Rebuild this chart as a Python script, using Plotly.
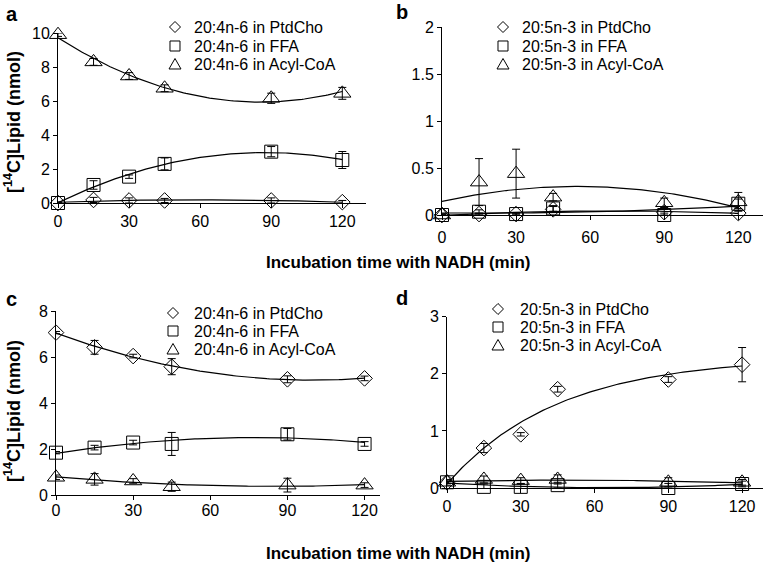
import numpy as np
import plotly.graph_objects as go

# ---------------- data ----------------
time_min = [0, 15, 30, 45, 90, 120]
x_ticks = [0, 30, 60, 90, 120]

# panel a: 20:4n-6
a_ptdcho = [0.0, 0.18, 0.15, 0.15, 0.15, 0.05]
a_ptdcho_err = [0.05, 0.15, 0.15, 0.12, 0.15, 0.1]
a_ffa = [0.0, 1.06, 1.55, 2.3, 3.02, 2.53]
a_ffa_err = [0.05, 0.25, 0.1, 0.35, 0.3, 0.5]
a_acyl = [9.9, 8.3, 7.47, 6.75, 6.16, 6.45]
a_acyl_err = [0.1, 0.2, 0.2, 0.2, 0.3, 0.35]

# panel b: 20:5n-3
b_ptdcho = [0.0, 0.01, 0.01, 0.06, 0.03, 0.02]
b_ptdcho_err = [0.01, 0.01, 0.01, 0.03, 0.03, 0.03]
b_ffa = [0.0, 0.035, 0.01, 0.07, 0.0, 0.12]
b_ffa_err = [0.01, 0.02, 0.01, 0.03, 0.02, 0.05]
b_acyl = [0.0, 0.35, 0.44, 0.19, 0.13, 0.14]
b_acyl_err = [0.01, 0.25, 0.26, 0.04, 0.05, 0.1]

# panel c: 20:4n-6
c_ptdcho = [7.06, 6.42, 6.04, 5.58, 5.03, 5.07]
c_ptdcho_err = [0.05, 0.3, 0.08, 0.35, 0.15, 0.1]
c_ffa = [1.84, 2.06, 2.28, 2.22, 2.64, 2.22]
c_ffa_err = [0.05, 0.1, 0.1, 0.5, 0.25, 0.1]
c_acyl = [0.77, 0.68, 0.61, 0.36, 0.43, 0.43]
c_acyl_err = [0.1, 0.25, 0.1, 0.2, 0.3, 0.1]

# panel d: 20:5n-3
d_ptdcho = [0.1, 0.7, 0.94, 1.73, 1.9, 2.16]
d_ptdcho_err = [0.05, 0.08, 0.03, 0.05, 0.05, 0.3]
d_ffa = [0.1, 0.02, 0.02, 0.05, 0.0, 0.07]
d_ffa_err = [0.02, 0.05, 0.05, 0.05, 0.08, 0.05]
d_acyl = [0.1, 0.15, 0.13, 0.15, 0.1, 0.1]
d_acyl_err = [0.02, 0.06, 0.05, 0.08, 0.08, 0.05]

W, H = 765, 567
FONT = "Liberation Sans, Arial, sans-serif"


def px_x(p):
    return p / W


def px_y(p):
    return 1 - p / H


def fit_poly(x, y, deg=2):
    c = np.polyfit(x, y, deg)
    xs = np.linspace(0, 120, 121)
    return xs, np.polyval(c, xs)


def fit_exp_sat(x, y):
    x = np.asarray(x, float)
    y = np.asarray(y, float)
    best = None
    for k in np.linspace(0.002, 0.1, 500):
        A = np.column_stack([np.ones_like(x), -np.exp(-k * x)])
        coef, *_ = np.linalg.lstsq(A, y, rcond=None)
        r = np.sum((A @ coef - y) ** 2)
        if best is None or r < best[0]:
            best = (r, k, coef)
    _, k, (a0, b0) = best
    xs = np.linspace(0, 120, 121)
    return xs, a0 - b0 * np.exp(-k * xs)


def legend_key(kind, cx, cy):
    """Open legend key shape centred at pixel (cx, cy)."""
    line = dict(color="black", width=1)
    if kind == 0:  # diamond
        r = 5.5
        pts = [(cx, cy - r), (cx + r, cy), (cx, cy + r), (cx - r, cy)]
    elif kind == 1:  # square
        r = 5
        pts = [(cx - r, cy - r), (cx + r, cy - r), (cx + r, cy + r), (cx - r, cy + r)]
    else:  # triangle
        pts = [(cx, cy - 5.5), (cx + 6, cy + 5), (cx - 6, cy + 5)]
    path = "M " + " L ".join(f"{px_x(px):.5f},{px_y(py):.5f}" for px, py in pts) + " Z"
    return dict(type="path", path=path, xref="paper", yref="paper", line=line,
                fillcolor="rgba(0,0,0,0)")


fig = go.Figure()

panels = [
    dict(ax="", fa="20:4n-6", s=[(a_ptdcho, a_ptdcho_err), (a_ffa, a_ffa_err), (a_acyl, a_acyl_err)],
         leg=(175, 192, [27, 46, 64])),
    dict(ax="2", fa="20:5n-3", s=[(b_ptdcho, b_ptdcho_err), (b_ffa, b_ffa_err), (b_acyl, b_acyl_err)],
         leg=(503, 520, [27, 46, 64])),
    dict(ax="3", fa="20:4n-6", s=[(c_ptdcho, c_ptdcho_err), (c_ffa, c_ffa_err), (c_acyl, c_acyl_err)],
         leg=(173, 192, [313, 331, 349])),
    dict(ax="4", fa="20:5n-3", s=[(d_ptdcho, d_ptdcho_err), (d_ffa, d_ffa_err), (d_acyl, d_acyl_err)],
         leg=(498, 518, [309, 327, 345])),
]
symbols = ["diamond-open", "square-open", "triangle-up-open"]
sizes = [12, 13, 15]
kinds = ["PtdCho", "FFA", "Acyl-CoA"]

ann = []
shapes = []
for pi, p in enumerate(panels):
    xa = "x" + p["ax"]
    ya = "y" + p["ax"]
    for si, (vals, errs) in enumerate(p["s"]):
        if pi == 3 and si == 0:
            xs, ys = fit_exp_sat(time_min, vals)
        else:
            xs, ys = fit_poly(time_min, vals, 2)
        fig.add_trace(go.Scatter(
            x=xs, y=ys, mode="lines", line=dict(color="black", width=1.2),
            xaxis=xa, yaxis=ya, showlegend=False, hoverinfo="skip", cliponaxis=False))
    for si, (vals, errs) in enumerate(p["s"]):
        fig.add_trace(go.Scatter(
            x=time_min, y=vals, mode="markers",
            name=f"{p['fa']} in {kinds[si]}", showlegend=False,
            marker=dict(symbol=symbols[si], size=sizes[si], color="black",
                        line=dict(color="black", width=1)),
            error_y=dict(type="data", array=errs, visible=True, color="black",
                         thickness=1, width=4),
            xaxis=xa, yaxis=ya, cliponaxis=False))
    # legend: key shapes + text
    sx, tx, rows = p["leg"]
    for si in range(3):
        shapes.append(legend_key(si, sx, rows[si]))
        ann.append(dict(text=f"{p['fa']} in {kinds[si]}", x=px_x(tx), y=px_y(rows[si]),
                        xref="paper", yref="paper", showarrow=False, xanchor="left",
                        yanchor="middle", font=dict(family=FONT, size=16, color="black")))

axis_common = dict(showgrid=False, zeroline=False, showline=True, linecolor="black",
                   linewidth=1, ticks="outside", ticklen=4, tickcolor="black",
                   tickfont=dict(family=FONT, size=16, color="black"))

layout = dict(
    width=W, height=H, margin=dict(l=0, r=0, t=0, b=0, autoexpand=False),
    paper_bgcolor="white", plot_bgcolor="white",
    font=dict(family=FONT, color="black"), showlegend=False,
    # panel a
    xaxis=dict(domain=[px_x(58), px_x(366)], range=[0, 130], tickvals=x_ticks, anchor="y", **axis_common),
    yaxis=dict(domain=[px_y(203), px_y(33)], range=[0, 10], tickvals=[0, 2, 4, 6, 8, 10], anchor="x", **axis_common),
    # panel b
    xaxis2=dict(domain=[px_x(442), px_x(763)], range=[0, 130], tickvals=x_ticks, anchor="y2",
                ticklabelstandoff=4, **axis_common),
    yaxis2=dict(domain=[px_y(215), px_y(27)], range=[0, 2], tickvals=[0, 0.5, 1, 1.5, 2],
                ticktext=["0", "0.5", "1", "1.5", "2"], anchor="x2", **axis_common),
    # panel c
    xaxis3=dict(domain=[px_x(56), px_x(380)], range=[0, 126], tickvals=x_ticks, anchor="y3",
                ticklabelstandoff=-3, **axis_common),
    yaxis3=dict(domain=[px_y(495), px_y(311)], range=[0, 8], tickvals=[0, 2, 4, 6, 8], anchor="x3", **axis_common),
    # panel d
    xaxis4=dict(domain=[px_x(447), px_x(763)], range=[0, 128.5], tickvals=x_ticks, anchor="y4", **axis_common),
    yaxis4=dict(domain=[px_y(488), px_y(316.7)], range=[0, 3], tickvals=[0, 1, 2, 3], anchor="x4", **axis_common),
)
fig.update_layout(**layout)

for lbl, x, y in [("a", 12, 14), ("b", 402, 12), ("c", 11, 299), ("d", 402, 298)]:
    ann.append(dict(text=f"<b>{lbl}</b>", x=px_x(x), y=px_y(y), xref="paper", yref="paper",
                    showarrow=False, xanchor="center", yanchor="middle",
                    font=dict(family=FONT, size=20, color="black")))
for y in [262, 553]:
    ann.append(dict(text="<b>Incubation time with NADH (min)</b>", x=px_x(398), y=px_y(y),
                    xref="paper", yref="paper", showarrow=False, xanchor="center", yanchor="middle",
                    font=dict(family=FONT, size=17, color="black")))
for y in [122, 411]:
    ann.append(dict(text="<b>[<sup>14</sup>C]Lipid (nmol)</b>", x=px_x(12), y=px_y(y),
                    xref="paper", yref="paper", showarrow=False, xanchor="center", yanchor="middle",
                    textangle=-90, font=dict(family=FONT, size=18, color="black")))
fig.update_layout(annotations=ann, shapes=shapes)

fig.write_html("out.html", config={"displayModeBar": False},
               post_script="document.body.style.margin='0px';document.body.style.padding='0px';")
